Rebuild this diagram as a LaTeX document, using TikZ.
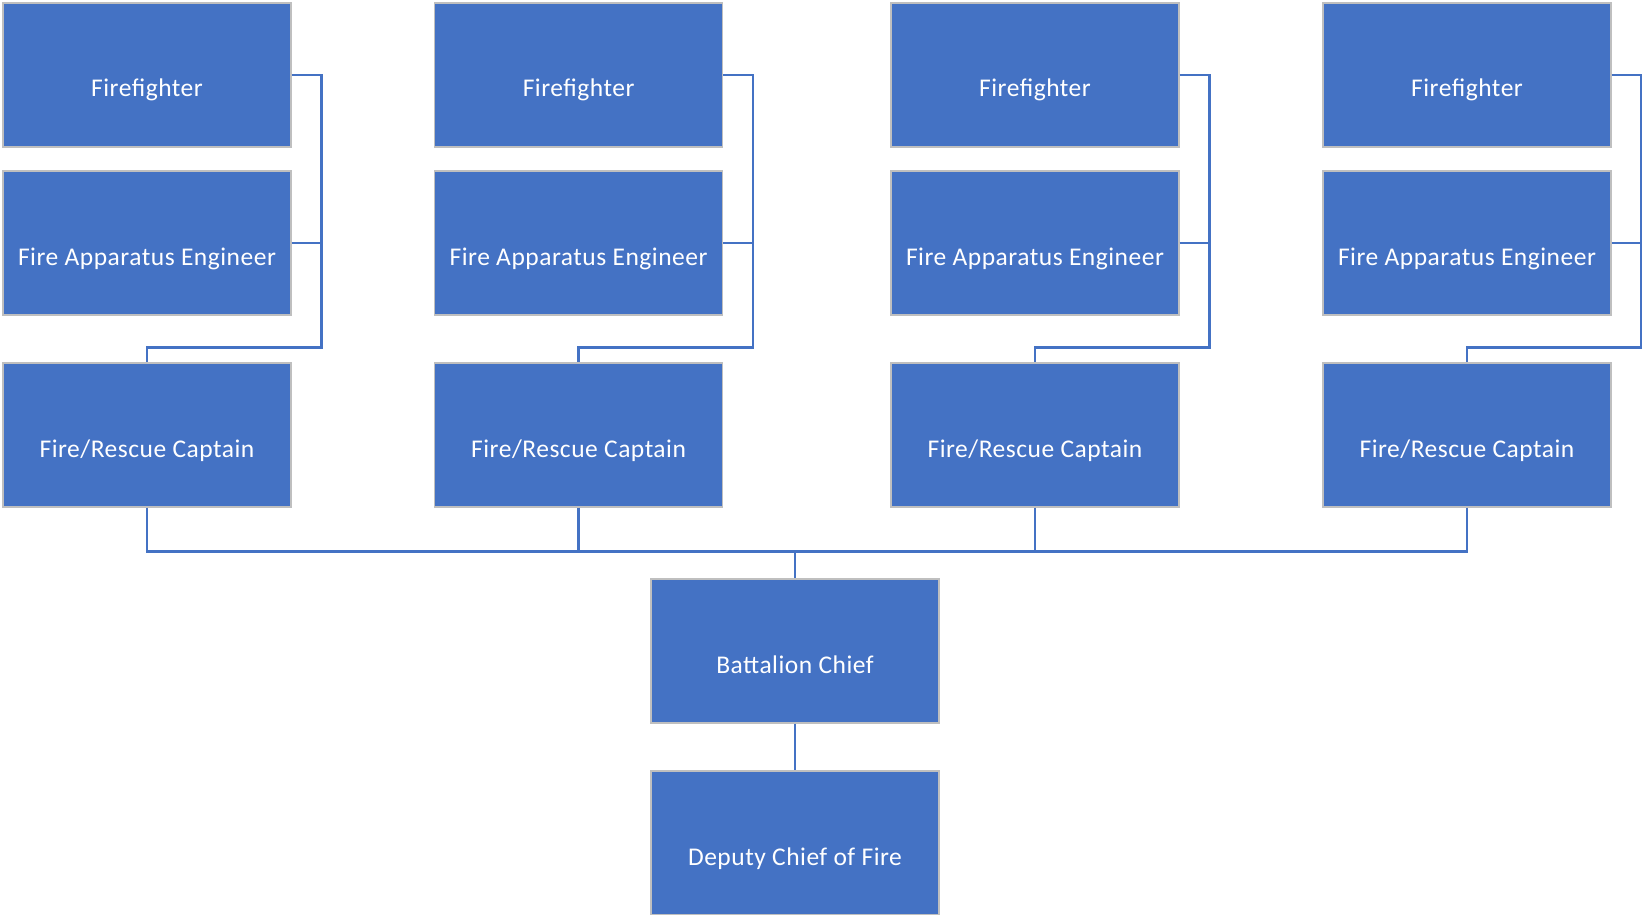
\documentclass[tikz,border=0pt]{standalone}
\usepackage{fontspec}
\setmainfont{Carlito}[LetterSpace=2]
\usetikzlibrary{calc}
\definecolor{boxblue}{HTML}{4472C4}
\definecolor{boxedge}{HTML}{BFBFBF}
\tikzset{
  orgbox/.style={rectangle, fill=boxblue, draw=boxedge, line width=1.2pt,
    minimum width=288pt, minimum height=144pt, inner sep=0pt,
    text=white, text height=44pt, text depth=0pt,
    font=\fontsize{25.5}{30}\selectfont},
  link/.style={draw=boxblue, line width=2.4pt}
}
\begin{document}
\begin{tikzpicture}[x=1pt,y=-1pt]
\useasboundingbox (0,0) rectangle (1642,915);
% column 1
\node[orgbox] (ff1)  at (147,75)  {Firefighter};
\node[orgbox] (eng1) at (147,243) {Fire Apparatus Engineer};
\node[orgbox] (cap1) at (147,435) {Fire/Rescue Captain};
% column 2
\node[orgbox] (ff2)  at (578.6,75)  {Firefighter};
\node[orgbox] (eng2) at (578.6,243) {Fire Apparatus Engineer};
\node[orgbox] (cap2) at (578.6,435) {Fire/Rescue Captain};
% column 3
\node[orgbox] (ff3)  at (1035,75)  {Firefighter};
\node[orgbox] (eng3) at (1035,243) {Fire Apparatus Engineer};
\node[orgbox] (cap3) at (1035,435) {Fire/Rescue Captain};
% column 4
\node[orgbox] (ff4)  at (1467,75)  {Firefighter};
\node[orgbox] (eng4) at (1467,243) {Fire Apparatus Engineer};
\node[orgbox] (cap4) at (1467,435) {Fire/Rescue Captain};
% chiefs
\node[orgbox] (bc) at (795,651) {Battalion Chief};
\node[orgbox] (dc) at (795,843) {Deputy Chief of Fire};
% connectors within columns
\foreach \i in {1,2,3,4}{
  \draw[link] (ff\i.east) -- ++(30,0) |- ([yshift=15pt]cap\i.north) -- (cap\i.north);
  \draw[link] (eng\i.east) -- ++(30,0);
}
% bus to battalion chief
\foreach \i in {1,2,3,4}{
  \draw[link] (cap\i.south) -- ++(0,44) -| (bc.north);
}
\draw[link] (bc.south) -- (dc.north);
\end{tikzpicture}
\end{document}
